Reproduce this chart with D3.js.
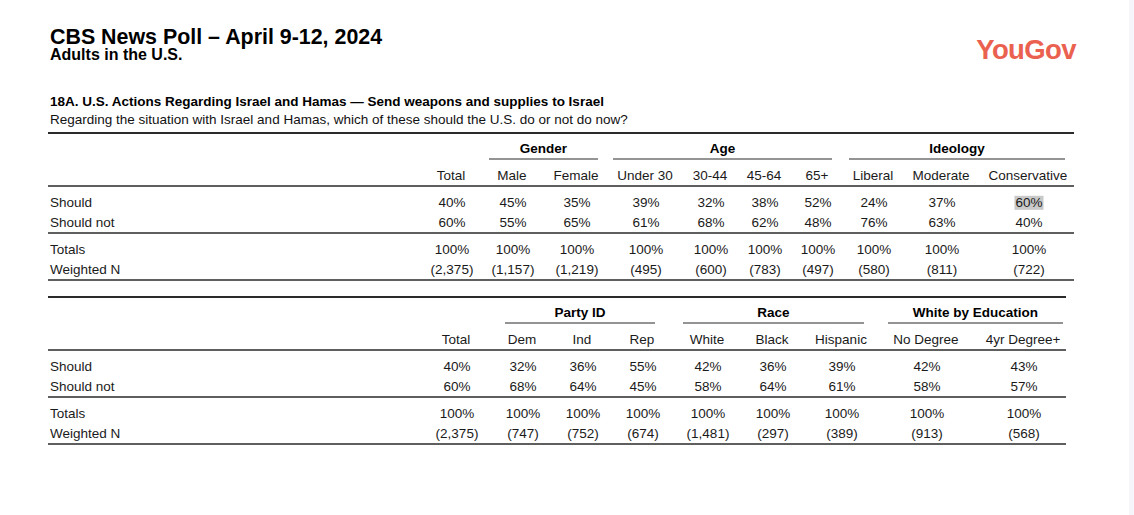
<!DOCTYPE html>
<html>
<head>
<meta charset="utf-8">
<script src="https://cdn.jsdelivr.net/npm/d3@7"></script>
<style>
  html, body { margin: 0; padding: 0; background: #fff; }
  svg { display: block; font-family: "Liberation Sans", Arial, Helvetica, sans-serif; }
</style>
</head>
<body>
<svg id="chart" width="1134" height="515"></svg>
<script>
// ---------------- DATA ----------------
const title = "CBS News Poll \u2013 April 9-12, 2024";
const subtitle = "Adults in the U.S.";
const questionTitle = "18A. U.S. Actions Regarding Israel and Hamas \u2014 Send weapons and supplies to Israel";
const questionText = "Regarding the situation with Israel and Hamas, which of these should the U.S. do or not do now?";
const brand = "YouGov";

const rowLabels = ["Should", "Should not"];
const totalLabels = ["Totals", "Weighted N"];

// Table 1
const cols1 = ["Total", "Male", "Female", "Under 30", "30-44", "45-64", "65+", "Liberal", "Moderate", "Conservative"];
const groups1 = ["Gender", "Age", "Ideology"];
const should1 = [40, 45, 35, 39, 32, 38, 52, 24, 37, 60];
const shouldNot1 = [60, 55, 65, 61, 68, 62, 48, 76, 63, 40];
const totals1 = [100, 100, 100, 100, 100, 100, 100, 100, 100, 100];
const weightedN1 = [2375, 1157, 1219, 495, 600, 783, 497, 580, 811, 722];
const highlight1 = { row: "Should", col: "Conservative" };

// Table 2
const cols2 = ["Total", "Dem", "Ind", "Rep", "White", "Black", "Hispanic", "No Degree", "4yr Degree+"];
const groups2 = ["Party ID", "Race", "White by Education"];
const should2 = [40, 32, 36, 55, 42, 36, 39, 42, 43];
const shouldNot2 = [60, 68, 64, 45, 58, 64, 61, 58, 57];
const totals2 = [100, 100, 100, 100, 100, 100, 100, 100, 100];
const weightedN2 = [2375, 747, 752, 674, 1481, 297, 389, 913, 568];

// ---------------- LAYOUT ----------------
const layout1 = {
  top: 133, left: 48, right: 1074,
  colX: [451, 512, 576, 645, 710, 764, 817, 873, 941, 1028],
  groupSpan: [[489, 598], [613, 832], [849, 1065]]
};
const layout2 = {
  top: 297, left: 48, right: 1066,
  colX: [456, 522, 582, 642, 707, 772, 841, 926, 1023],
  groupSpan: [[505, 655], [683, 864], [888, 1063]]
};
const fs = 13.5;

const svg = d3.select("#chart");
const ink = "#1a1a1a";
const fmtPct = d => d + "%";
const fmtN = d => "(" + d3.format(",")(d) + ")";

// right page edge strip
svg.append("rect").attr("x", 1129).attr("y", 0).attr("width", 5).attr("height", 515).attr("fill", "#f6f6fa");

// Header texts
svg.append("text").attr("x", 50).attr("y", 43.5).attr("font-size", 21.4).attr("font-weight", "bold").attr("fill", "#000").text(title);
svg.append("text").attr("x", 50).attr("y", 60).attr("font-size", 16).attr("font-weight", "bold").attr("fill", "#000").text(subtitle);
svg.append("text").attr("x", 1076).attr("y", 59).attr("text-anchor", "end").attr("font-size", 27.5).attr("font-weight", "bold")
  .attr("fill", "#ea6150").attr("letter-spacing", -0.6).text(brand);
svg.append("text").attr("x", 50).attr("y", 106).attr("font-size", fs).attr("font-weight", "bold").attr("fill", "#000").text(questionTitle);
svg.append("text").attr("x", 50).attr("y", 124).attr("font-size", fs).attr("fill", "#111").text(questionText);

function drawTable(cols, groups, rowsData, lay, highlight) {
  const g = svg.append("g");
  const x = d3.scaleOrdinal(cols, lay.colX);
  const T = lay.top;
  // vertical positions (offsets from table top)
  const y = d3.scaleOrdinal(
    ["top", "group", "underline", "header", "sep1", "r0", "r1", "sep2", "t0", "t1", "bottom"],
    [0, 15, 26, 42, 53, 69, 89, 100, 116, 136, 147]
  );
  const line = (yy, x0, x1, w) => g.append("line")
    .attr("x1", x0).attr("x2", x1).attr("y1", T + yy).attr("y2", T + yy)
    .attr("stroke", "#2a2a2a").attr("stroke-width", w);

  line(y("top"), lay.left, lay.right, 1.8);
  line(y("sep1"), lay.left, lay.right, 1.6);
  line(y("sep2"), lay.left, lay.right, 1.6);
  line(y("bottom"), lay.left, lay.right, 1.6);

  // group headers
  groups.forEach((name, i) => {
    const [x0, x1] = lay.groupSpan[i];
    g.append("text").attr("x", (x0 + x1) / 2).attr("y", T + y("group") + 4.8)
      .attr("text-anchor", "middle").attr("font-size", fs).attr("font-weight", "bold").attr("fill", "#000").text(name);
    line(y("underline"), x0, x1, 1.2);
  });

  // column headers
  g.selectAll("text.col").data(cols).join("text").attr("class", "col")
    .attr("x", d => x(d)).attr("y", T + y("header") + 4.8)
    .attr("text-anchor", "middle").attr("font-size", fs).attr("fill", ink).text(d => d);

  // rows
  rowsData.forEach(r => {
    const yy = T + y(r.key) + 4.8;
    g.append("text").attr("x", 50).attr("y", yy).attr("font-size", fs).attr("fill", ink).text(r.label);
    g.selectAll(null).data(r.values).join("text")
      .attr("x", (d, i) => x(cols[i]) + 1).attr("y", yy)
      .attr("text-anchor", "middle").attr("font-size", fs).attr("fill", ink)
      .each(function (d, i) {
        d3.select(this).text(r.fmt(d));
        if (highlight && r.label === highlight.row && cols[i] === highlight.col) {
          const bb = this.getBBox();
          g.insert("rect", ":first-child").attr("x", bb.x - 1).attr("y", bb.y + 1)
            .attr("width", bb.width + 2).attr("height", bb.height - 1).attr("fill", "#c9c9c9");
        }
      });
  });
}

drawTable(cols1, groups1, [
  { key: "r0", label: rowLabels[0], values: should1, fmt: fmtPct },
  { key: "r1", label: rowLabels[1], values: shouldNot1, fmt: fmtPct },
  { key: "t0", label: totalLabels[0], values: totals1, fmt: fmtPct },
  { key: "t1", label: totalLabels[1], values: weightedN1, fmt: fmtN }
], layout1, highlight1);

drawTable(cols2, groups2, [
  { key: "r0", label: rowLabels[0], values: should2, fmt: fmtPct },
  { key: "r1", label: rowLabels[1], values: shouldNot2, fmt: fmtPct },
  { key: "t0", label: totalLabels[0], values: totals2, fmt: fmtPct },
  { key: "t1", label: totalLabels[1], values: weightedN2, fmt: fmtN }
], layout2, null);
</script>
</body>
</html>
